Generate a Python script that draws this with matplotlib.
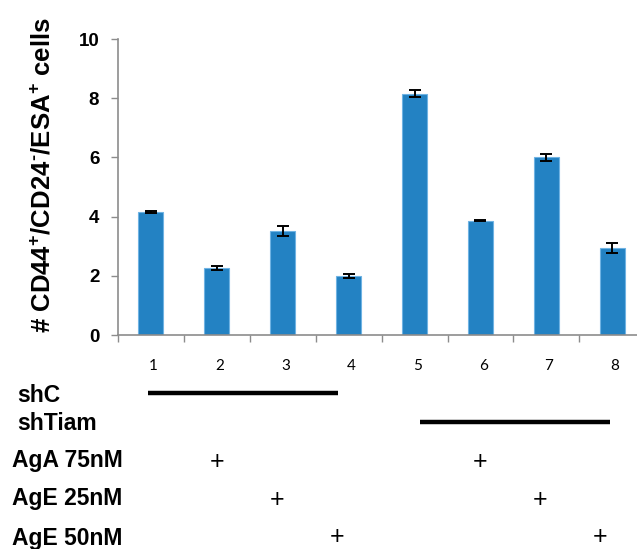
import matplotlib
matplotlib.use('Agg')
import matplotlib.pyplot as plt
from matplotlib.transforms import blended_transform_factory

# data
groups = [1, 2, 3, 4, 5, 6, 7, 8]
values = [4.15, 2.27, 3.52, 2.0, 8.15, 3.86, 6.0, 2.95]
errors = [0.03, 0.07, 0.16, 0.06, 0.12, 0.02, 0.11, 0.17]
y_ticks = [0, 2, 4, 6, 8, 10]

row_names = ['shC', 'shTiam', 'AgA 75nM', 'AgE 25nM', 'AgE 50nM']
shC = [1, 1, 1, 1, 0, 0, 0, 0]
shTiam = [0, 0, 0, 0, 1, 1, 1, 1]
agA75 = [0, 1, 0, 0, 0, 1, 0, 0]
agE25 = [0, 0, 1, 0, 0, 0, 1, 0]
agE50 = [0, 0, 0, 1, 0, 0, 0, 1]

plt.rcParams['font.family'] = ['Liberation Sans', 'DejaVu Sans']
plt.rcParams['mathtext.fontset'] = 'custom'
plt.rcParams['mathtext.bf'] = 'Liberation Sans:bold'
plt.rcParams['mathtext.rm'] = 'Liberation Sans:bold'
plt.rcParams['mathtext.default'] = 'bf'

fig = plt.figure(figsize=(6.37, 5.49), dpi=100)
ax = fig.add_axes([118 / 637, 1 - 335 / 549, 519 / 637, 296 / 549])

ax.bar(groups, values, width=0.38, color='#2382c3', edgecolor='#6fb3e3', linewidth=0.8, zorder=2)
ax.errorbar(groups, values, yerr=errors, fmt='none', ecolor='black', elinewidth=1.4,
            capsize=4, capthick=1.4, zorder=3)

ax.set_xlim(0.5, 0.5 + 519 / 65.9)
ax.set_ylim(0, 10)
ax.set_yticks(y_ticks)
ax.set_yticklabels([str(t) for t in y_ticks], fontsize=13.5, fontweight='bold')
ax.set_xticks([g + 0.5 for g in groups[:-1]] + [0.5])
ax.set_xticklabels([])
ax.tick_params(axis='both', direction='out', length=5, width=1, color='#8c8c8c')
ax.tick_params(axis='y', pad=8.5)
for s in ['top', 'right']:
    ax.spines[s].set_visible(False)
for s in ['left', 'bottom']:
    ax.spines[s].set_color('#8c8c8c')
    ax.spines[s].set_linewidth(1.2)

fig.text(43 / 637, 1 - 175 / 549, '# CD44$^{+}$/CD24$^{\u2010}$/ESA$^{+}$ cells',
         rotation=90, ha='center', va='center', fontsize=18.5, fontweight='bold')

# condition table below the axis
tr = blended_transform_factory(ax.transData, fig.transFigure)

for g in groups:
    ax.text(g + 0.04, 1 - 366 / 549, str(g), transform=tr, ha='center', va='center',
            fontsize=11, family='Lato', clip_on=False)

# group lines
ax.plot([0.95, 3.84], [1 - 393 / 549] * 2, transform=tr, color='black', lw=3.2,
        clip_on=False, solid_capstyle='butt')
ax.plot([5.08, 7.97], [1 - 422 / 549] * 2, transform=tr, color='black', lw=3.2,
        clip_on=False, solid_capstyle='butt')

label_x = [17, 17, 12, 12, 12]
label_y = [395, 424, 461, 499, 538]
for name, lx, ly in zip(row_names, label_x, label_y):
    fig.text(lx / 637, 1 - ly / 549, name, ha='left', va='center', fontsize=16.5, fontweight='bold')

plus_rows = [(agA75, 462), (agE25, 500), (agE50, 537)]
for row, py in plus_rows:
    for g, flag in zip(groups, row):
        if flag:
            col = g - 0.09 * ((g - 1) % 4 - 1)
            ax.text(col, 1 - py / 549, '+', transform=tr, ha='center', va='center',
                    fontsize=18, clip_on=False)

fig.savefig('out.png', dpi=100)
